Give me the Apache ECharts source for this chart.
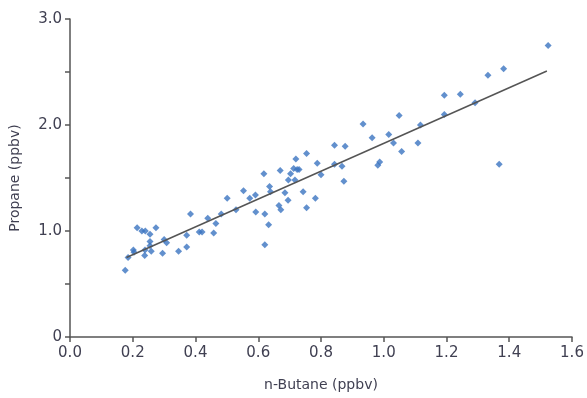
<!DOCTYPE html>
<html>
<head>
<meta charset="utf-8">
<script src="https://cdn.jsdelivr.net/npm/echarts@6/dist/echarts.min.js"></script>
<style>
  html, body { margin: 0; padding: 0; background: #fff; }
  #chart { width: 587px; height: 398px; }
</style>
</head>
<body>
<div id="chart"></div>
<script>
// n-Butane (x) vs Propane (y), ppbv
const butane = [
  0.176, 0.185, 0.202, 0.204, 0.214, 0.229, 0.240, 0.255, 0.255, 0.255,
  0.238, 0.239, 0.259, 0.274, 0.295, 0.300, 0.308, 0.346, 0.372, 0.372,
  0.384, 0.412, 0.421, 0.439, 0.458, 0.465, 0.482, 0.501, 0.529, 0.553,
  0.573, 0.591, 0.592, 0.618, 0.621, 0.633, 0.621, 0.636, 0.639, 0.666,
  0.672, 0.670, 0.685, 0.695, 0.696, 0.703, 0.713, 0.717, 0.720, 0.724,
  0.730, 0.743, 0.754, 0.754, 0.782, 0.788, 0.800, 0.843, 0.843, 0.867,
  0.873, 0.877, 0.934, 0.963, 0.981, 0.987, 1.016, 1.031, 1.049, 1.057,
  1.109, 1.117, 1.193, 1.193, 1.244, 1.291, 1.332, 1.382, 1.368, 1.524
];
const propane = [
  0.63, 0.75, 0.82, 0.80, 1.03, 1.00, 1.00, 0.97, 0.90, 0.86,
  0.77, 0.82, 0.81, 1.03, 0.79, 0.92, 0.89, 0.81, 0.85, 0.96,
  1.16, 0.99, 0.99, 1.12, 0.98, 1.07, 1.16, 1.31, 1.20, 1.38,
  1.31, 1.34, 1.18, 1.54, 1.16, 1.06, 0.87, 1.42, 1.37, 1.24,
  1.20, 1.57, 1.36, 1.29, 1.48, 1.54, 1.59, 1.48, 1.68, 1.58,
  1.58, 1.37, 1.73, 1.22, 1.31, 1.64, 1.53, 1.81, 1.63, 1.61,
  1.47, 1.80, 2.01, 1.88, 1.62, 1.65, 1.91, 1.83, 2.09, 1.75,
  1.83, 2.00, 2.28, 2.10, 2.29, 2.21, 2.47, 2.53, 1.63, 2.75
];
// fitted line end points
const fitX = [0.18, 1.52];
const fitY = [0.75, 2.51];

const points = butane.map((x, i) => [x, propane[i]]);
const fitLine = fitX.map((x, i) => [x, fitY[i]]);

const textColor = '#404052';
const axisColor = '#555';
const font = 'DejaVu Sans';

const chart = echarts.init(document.getElementById('chart'));
chart.setOption({
  animation: false,
  grid: { left: 70, right: 15, top: 19, bottom: 61 },
  xAxis: {
    type: 'value',
    min: 0,
    max: 1.6,
    interval: 0.2,
    name: 'n-Butane (ppbv)',
    nameLocation: 'middle',
    nameGap: 41,
    nameTextStyle: { color: textColor, fontSize: 14, fontFamily: font },
    axisLine: { lineStyle: { color: axisColor, width: 1.5 } },
    axisTick: { show: true, length: 5, lineStyle: { color: axisColor, width: 1.5 } },
    axisLabel: {
      color: textColor, fontSize: 15, fontFamily: font, margin: 9,
      formatter: v => v.toFixed(1)
    },
    splitLine: { show: false }
  },
  yAxis: {
    type: 'value',
    min: 0,
    max: 3,
    interval: 0.5,
    name: 'Propane (ppbv)',
    nameLocation: 'middle',
    nameGap: 48,
    nameTextStyle: { color: textColor, fontSize: 14, fontFamily: font },
    axisLine: { show: true, lineStyle: { color: axisColor, width: 1.5 } },
    axisTick: { show: true, length: 5, lineStyle: { color: axisColor, width: 1.5 } },
    axisLabel: {
      color: textColor, fontSize: 15, fontFamily: font, margin: 8,
      formatter: v => (v === 0 ? '0' : (Math.abs(v % 1) < 1e-9 ? v.toFixed(1) : ''))
    },
    splitLine: { show: false }
  },
  series: [
    {
      type: 'line',
      data: fitLine,
      symbol: 'none',
      lineStyle: { color: '#555', width: 1.5 },
      z: 3
    },
    {
      type: 'scatter',
      data: points,
      symbol: 'diamond',
      symbolSize: 7,
      itemStyle: { color: '#3b74c0' },
      z: 2
    }
  ]
});
</script>
</body>
</html>
